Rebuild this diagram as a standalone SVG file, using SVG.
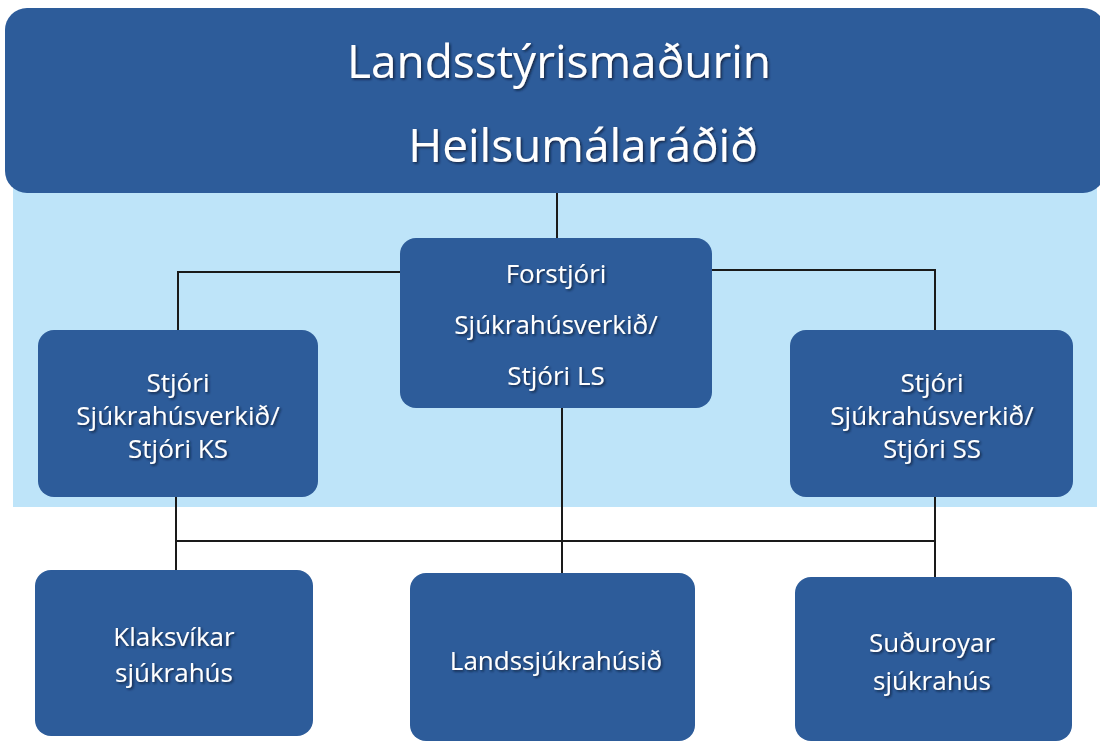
<svg xmlns="http://www.w3.org/2000/svg" width="1100" height="743" viewBox="0 0 1100 743">
<defs>
<filter id="ts" x="-10%" y="-20%" width="120%" height="150%">
<feDropShadow dx="1.5" dy="1.5" stdDeviation="1" flood-color="#0a1a33" flood-opacity="0.8"/>
</filter>
<style>
.box{fill:#2d5c9a;}
.bg{fill:#bee4f9;}
.t{font-family:"Open Sans","Liberation Sans",sans-serif;fill:#ffffff;text-anchor:middle;filter:url(#ts);}
.big{font-size:46px;}
.sm{font-size:26px;}
.c{stroke:#1a1a1a;stroke-width:2;fill:none;}
</style>
</defs>
<rect x="0" y="0" width="1100" height="743" fill="#ffffff"/>
<rect class="bg" x="13" y="186" width="1084" height="321"/>
<g id="top">
<rect class="box" x="5" y="8" width="1100" height="185" rx="22"/>
<text class="t big" x="559" y="78">Landsstýrismaðurin</text>
<text class="t big" x="583" y="162">Heilsumálaráðið</text>
</g>
<g id="connectors">
<path class="c" d="M557 193 V238"/>
<path class="c" d="M400 272 H178 V330"/>
<path class="c" d="M712 270 H935 V330"/>
<path class="c" d="M176 497 V572"/>
<path class="c" d="M176 541 H935"/>
<path class="c" d="M562 408 V573"/>
<path class="c" d="M935 497 V577"/>
</g>
<g id="forstjori">
<rect class="box" x="400" y="238" width="312" height="170" rx="16"/>
<text class="t sm" x="556" y="283">Forstjóri</text>
<text class="t sm" x="556" y="334">Sjúkrahúsverkið/</text>
<text class="t sm" x="556" y="385">Stjóri LS</text>
</g>
<g id="stjori-ks">
<rect class="box" x="38" y="330" width="280" height="167" rx="16"/>
<text class="t sm" x="178" y="392">Stjóri</text>
<text class="t sm" x="178" y="425">Sjúkrahúsverkið/</text>
<text class="t sm" x="178" y="458">Stjóri KS</text>
</g>
<g id="stjori-ss">
<rect class="box" x="790" y="330" width="283" height="167" rx="16"/>
<text class="t sm" x="932" y="392">Stjóri</text>
<text class="t sm" x="932" y="425">Sjúkrahúsverkið/</text>
<text class="t sm" x="932" y="458">Stjóri SS</text>
</g>
<g id="klaksvikar">
<rect class="box" x="35" y="570" width="278" height="166" rx="16"/>
<text class="t sm" x="174" y="646">Klaksvíkar</text>
<text class="t sm" x="174" y="682">sjúkrahús</text>
</g>
<g id="landssjukrahusid">
<rect class="box" x="410" y="573" width="285" height="168" rx="16"/>
<text class="t sm" x="556" y="670">Landssjúkrahúsið</text>
</g>
<g id="sudhuroyar">
<rect class="box" x="795" y="577" width="277" height="164" rx="16"/>
<text class="t sm" x="932" y="652">Suðuroyar</text>
<text class="t sm" x="932" y="690">sjúkrahús</text>
</g>
</svg>
